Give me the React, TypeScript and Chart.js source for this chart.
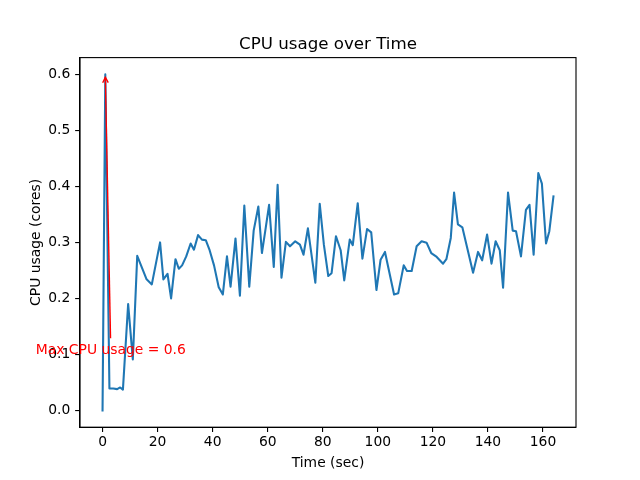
import { useEffect, useRef } from "react";
import { Chart, registerables } from "chart.js";

Chart.register(...registerables);

const timeSec = [
  0, 1.0, 2.5, 3.9, 5.3, 6.4, 7.4, 9.3, 11.0, 12.6,
  16.0, 17.9, 20.9, 22.1, 23.6, 24.9, 26.5, 27.7, 28.9, 30.4,
  32.0, 33.2, 34.7, 36.1, 37.5, 38.9, 40.5, 42.2, 43.7, 45.2,
  46.5, 48.3, 49.9, 51.5, 53.3, 54.9, 56.6, 57.9, 59.3, 60.5,
  62.2, 63.6, 65.0, 66.6, 68.1, 70.0, 71.7, 73.0, 74.6, 77.3,
  78.9, 80.4, 82.0, 83.2, 84.8, 86.5, 87.8, 89.8, 90.9, 92.7,
  94.4, 96.1, 97.6, 99.5, 101.0, 102.6, 105.9, 107.4, 109.4, 110.6,
  112.3, 114.1, 115.9, 117.7, 119.4, 121.4, 123.7, 124.9, 126.5, 127.7,
  129.1, 130.7, 134.6, 136.4, 137.9, 139.7, 141.3, 142.8, 144.3, 145.5,
  147.3, 149.0, 150.2, 152.0, 153.8, 155.1, 156.6, 158.3, 159.6, 161.1,
  162.3, 163.8,
];

const cpuCores = [
  0.0, 0.6, 0.039, 0.039, 0.038, 0.041, 0.037, 0.19, 0.091, 0.276,
  0.234, 0.225, 0.3, 0.234, 0.244, 0.2, 0.27, 0.253, 0.259, 0.275,
  0.298, 0.287, 0.313, 0.305, 0.304, 0.286, 0.259, 0.22, 0.207, 0.275,
  0.221, 0.307, 0.205, 0.366, 0.221, 0.321, 0.364, 0.281, 0.327, 0.367,
  0.256, 0.403, 0.237, 0.301, 0.293, 0.302, 0.296, 0.278, 0.325, 0.228,
  0.369, 0.296, 0.24, 0.245, 0.311, 0.286, 0.232, 0.305, 0.295, 0.37,
  0.271, 0.324, 0.318, 0.215, 0.269, 0.283, 0.207, 0.209, 0.259, 0.249,
  0.249, 0.293, 0.302, 0.2995, 0.281, 0.274, 0.262, 0.27, 0.308, 0.389,
  0.332, 0.327, 0.246, 0.283, 0.268, 0.314, 0.262, 0.302, 0.286, 0.219,
  0.389, 0.321, 0.32, 0.275, 0.358, 0.367, 0.278, 0.424, 0.405, 0.298,
  0.32, 0.382,
];

const xTickValues = [0, 20, 40, 60, 80, 100, 120, 140, 160];
const yTickValues = [0.0, 0.1, 0.2, 0.3, 0.4, 0.5, 0.6];

const chartTitle = "CPU usage over Time";
const xAxisLabel = "Time (sec)";
const yAxisLabel = "CPU usage (cores)";

const maxCpu = Math.max(...cpuCores);
const maxTime = timeSec[cpuCores.indexOf(maxCpu)];
const maxLabel = `Max CPU usage = ${maxCpu}`;
const maxTextX = maxTime + 2;
const maxTextY = 0.1;

const FONT = "'DejaVu Sans', sans-serif";
const PT = 100 / 72;

export default function App() {
  const canvasRef = useRef<HTMLCanvasElement | null>(null);

  useEffect(() => {
    const canvas = canvasRef.current;
    if (!canvas) return;

    const xSpan = Math.max(...timeSec) - Math.min(...timeSec);
    const xMin = Math.min(...timeSec) - 0.05 * xSpan;
    const xMax = Math.max(...timeSec) + 0.05 * xSpan;
    const ySpan = maxCpu - Math.min(...cpuCores);
    const yMin = Math.min(...cpuCores) - 0.05 * ySpan;
    const yMax = maxCpu + 0.05 * ySpan;

    const mplPlugin = {
      id: "mpl",
      afterDatasetsDraw(chart: any) {
        const ctx = chart.ctx;
        const { left, right, top, bottom } = chart.chartArea;
        const xs = chart.scales.x;
        const ys = chart.scales.y;
        ctx.save();
        // frame
        ctx.strokeStyle = "#000";
        ctx.lineWidth = 0.8 * PT;
        ctx.strokeRect(left, top, right - left, bottom - top);

        // annotation text
        const tx = xs.getPixelForValue(maxTextX);
        const ty = ys.getPixelForValue(maxTextY);
        ctx.fillStyle = "red";
        ctx.font = `${10 * PT}px ${FONT}`;
        ctx.textAlign = "center";
        ctx.textBaseline = "alphabetic";
        ctx.fillText(maxLabel, tx, ty);

        // arrow
        const px = xs.getPixelForValue(maxTime);
        const py = ys.getPixelForValue(maxCpu);
        const cy = ty - 10.6 + 7.0; // text bbox center
        const dx = px - tx;
        const dy = py - cy;
        const len = Math.hypot(dx, dy);
        const ux = dx / len;
        const uy = dy / len;
        const startDist = (cy - (ty - 10.6 - 2.78 - 2.78)) / -uy;
        const sx = tx + ux * startDist;
        const sy = cy + uy * startDist;
        const ex = px - ux * 2.78;
        const ey = py - uy * 2.78;
        ctx.strokeStyle = "red";
        ctx.lineWidth = 1 * PT;
        ctx.lineCap = "butt";
        ctx.beginPath();
        ctx.moveTo(sx, sy);
        ctx.lineTo(ex, ey);
        ctx.stroke();
        const hl = 0.4 * 10 * PT;
        const hw = 0.2 * 10 * PT;
        const bx = ex - ux * hl;
        const by = ey - uy * hl;
        ctx.beginPath();
        ctx.moveTo(bx - uy * hw, by + ux * hw);
        ctx.lineTo(ex, ey);
        ctx.lineTo(bx + uy * hw, by - ux * hw);
        ctx.stroke();
        ctx.restore();
      },
      afterDraw(chart: any) {
        const ctx = chart.ctx;
        const { left, right, top, bottom } = chart.chartArea;
        const cx = (left + right) / 2;
        ctx.save();
        ctx.fillStyle = "#000";
        ctx.textAlign = "center";
        ctx.textBaseline = "alphabetic";
        ctx.font = `${12 * PT}px ${FONT}`;
        ctx.fillText(chartTitle, cx, top - 6 * PT);
        ctx.font = `${10 * PT}px ${FONT}`;
        ctx.fillText(xAxisLabel, cx, 467);
        ctx.translate(39.5, (top + bottom) / 2);
        ctx.rotate(-Math.PI / 2);
        ctx.fillText(yAxisLabel, 0, 0);
        ctx.restore();
      },
    };

    const chart = new Chart(canvas, {
      type: "line",
      data: {
        datasets: [
          {
            data: timeSec.map((t, i) => ({ x: t, y: cpuCores[i] })),
            borderColor: "#1f77b4",
            borderWidth: 1.5 * PT,
            pointRadius: 0,
            tension: 0,
            fill: false,
            borderJoinStyle: "round",
            borderCapStyle: "square",
          },
        ],
      },
      options: {
        responsive: false,
        animation: false,
        devicePixelRatio: 1,
        layout: { padding: { left: 0, right: 64, top: 57.6, bottom: 0 } },
        plugins: {
          legend: { display: false },
          tooltip: { enabled: false },
          title: { display: false },
        },
        scales: {
          x: {
            type: "linear",
            min: xMin,
            max: xMax,
            afterFit: (s: any) => {
              s.height = 480 - 427.2;
            },
            afterBuildTicks: (s: any) => {
              s.ticks = xTickValues.map((v) => ({ value: v }));
            },
            grid: {
              drawOnChartArea: false,
              drawTicks: true,
              tickLength: 3.5 * PT,
              color: "#000",
              lineWidth: 0.8 * PT,
            },
            border: { display: true, color: "#000", width: 0.8 * PT },
            ticks: {
              autoSkip: false,
              maxRotation: 0,
              padding: 2.2,
              color: "#000",
              font: { family: FONT, size: 10 * PT, lineHeight: 1.2 },
              callback: (v: any) => String(v),
            },
          },
          y: {
            type: "linear",
            min: yMin,
            max: yMax,
            afterFit: (s: any) => {
              s.width = 80;
            },
            afterBuildTicks: (s: any) => {
              s.ticks = yTickValues.map((v) => ({ value: v }));
            },
            grid: {
              drawOnChartArea: false,
              drawTicks: true,
              tickLength: 3.5 * PT,
              color: "#000",
              lineWidth: 0.8 * PT,
            },
            border: { display: true, color: "#000", width: 0.8 * PT },
            ticks: {
              autoSkip: false,
              padding: 3.5 * PT,
              color: "#000",
              font: { family: FONT, size: 10 * PT, lineHeight: 1.2 },
              callback: (v: any) => Number(v).toFixed(1),
            },
          },
        },
      },
      plugins: [mplPlugin],
    } as any);

    return () => {
      chart.destroy();
    };
  }, []);

  return (
    <div style={{ position: "absolute", left: 0, top: 0, width: 640, height: 480, background: "#fff" }}>
      <canvas ref={canvasRef} width={640} height={480} style={{ display: "block" }} />
    </div>
  );
}
